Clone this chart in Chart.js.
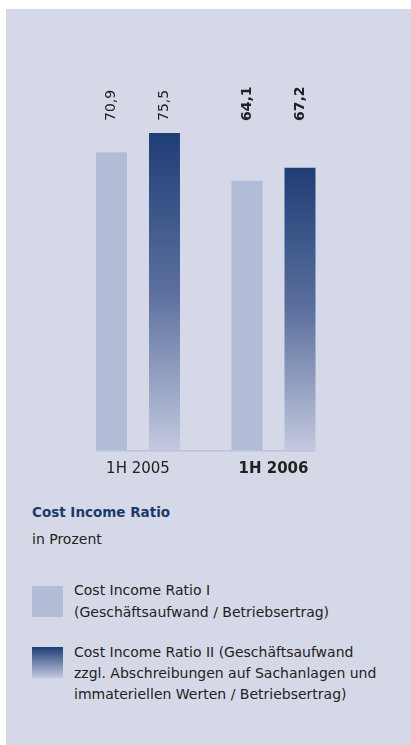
<!DOCTYPE html>
<html>
<head>
<meta charset="utf-8">
<script src="https://cdn.jsdelivr.net/npm/chart.js@4.4.0/dist/chart.umd.min.js"></script>
<style>
  html, body { margin:0; padding:0; background:#ffffff; width:411px; height:745px; overflow:hidden; }
  #panel { position:absolute; left:6px; top:9px; right:0; bottom:0; background:#d5d9e7; }
  #chartBox { position:absolute; left:0; top:0; width:411px; height:490px; }
  .txt { position:absolute; font-family:"DejaVu Sans", sans-serif; color:#222; white-space:pre-line; }
  #title { left:32px; top:503px; font-size:13.5px; line-height:18px; font-weight:bold; color:#1b3a6d; }
  #unit { left:32px; top:530px; font-size:14px; line-height:18px; }
  .sw { position:absolute; left:32px; width:31px; height:31px; }
</style>
</head>
<body>
<div id="panel"></div>
<div id="chartBox"><canvas id="c" width="411" height="490"></canvas></div>
<div class="txt" id="title"></div>
<div class="txt" id="unit"></div>
<div id="legend"></div>
<script>
// ---- data ----
const categories = ['1H 2005', '1H 2006'];
const ratioI = [70.9, 64.1];
const ratioII = [75.5, 67.2];
const seriesLabels = [
  'Cost Income Ratio I\n(Geschäftsaufwand / Betriebsertrag)',
  'Cost Income Ratio II (Geschäftsaufwand\nzzgl. Abschreibungen auf Sachanlagen und\nimmateriellen Werten / Betriebsertrag)'
];
const chartTitle = 'Cost Income Ratio';
const unitLabel = 'in Prozent';
const highlightIndex = 1; // current period shown in bold

// ---- styles ----
const FONT = '"DejaVu Sans", sans-serif';
const LIGHT = '#b3bcd6';
const DARK_TOP = '#1f3e76';
const DARK_MID = '#5b6f9e';
const DARK_BOT = '#c3c9de';

document.getElementById('title').textContent = chartTitle;
document.getElementById('unit').textContent = unitLabel;

// legend (HTML)
const legendTops = [579, 641.5];
const legendLH = [22, 21];
const swTops = [586, 647];
const swBgs = [LIGHT, 'linear-gradient(to bottom, ' + DARK_TOP + ', ' + DARK_BOT + ')'];
const lg = document.getElementById('legend');
seriesLabels.forEach((lab, i) => {
  const sw = document.createElement('div');
  sw.className = 'sw';
  sw.style.top = swTops[i] + 'px';
  sw.style.background = swBgs[i];
  lg.appendChild(sw);
  const t = document.createElement('div');
  t.className = 'txt';
  t.style.left = '74px';
  t.style.top = legendTops[i] + 'px';
  t.style.fontSize = '14px';
  t.style.lineHeight = legendLH[i] + 'px';
  t.textContent = lab;
  lg.appendChild(t);
});

function gradientFill(context) {
  const chart = context.chart;
  const area = chart.chartArea;
  if (!area) return DARK_TOP;
  const ys = chart.scales.y;
  const top = ys.getPixelForValue(context.raw);
  const bot = ys.getPixelForValue(0);
  const g = chart.ctx.createLinearGradient(0, top, 0, bot);
  g.addColorStop(0, DARK_TOP);
  g.addColorStop(0.5, DARK_MID);
  g.addColorStop(1, DARK_BOT);
  return g;
}

const valueLabels = {
  id: 'valueLabels',
  afterDatasetsDraw(chart) {
    const ctx = chart.ctx;
    chart.data.datasets.forEach((ds, di) => {
      const meta = chart.getDatasetMeta(di);
      meta.data.forEach((bar, i) => {
        const txt = ds.data[i].toFixed(1).replace('.', ',');
        ctx.save();
        ctx.translate(bar.x, 121);
        ctx.rotate(-Math.PI / 2);
        ctx.font = (i === highlightIndex ? 'bold ' : '') + '14px ' + FONT;
        ctx.fillStyle = '#222';
        ctx.textAlign = 'left';
        ctx.textBaseline = 'middle';
        ctx.fillText(txt, 0, 0);
        ctx.restore();
      });
    });
  }
};

const baseLine = {
  id: 'baseLine',
  beforeDatasetsDraw(chart) {
    const ctx = chart.ctx;
    let l = Infinity, r = -Infinity;
    chart.data.datasets.forEach((ds, di) => {
      chart.getDatasetMeta(di).data.forEach(b => {
        l = Math.min(l, b.x - b.width / 2);
        r = Math.max(r, b.x + b.width / 2);
      });
    });
    const y = chart.scales.y.getPixelForValue(0);
    ctx.save();
    ctx.strokeStyle = '#bcc3d9';
    ctx.lineWidth = 1.5;
    ctx.beginPath();
    ctx.moveTo(l, y + 0.75);
    ctx.lineTo(r, y + 0.75);
    ctx.stroke();
    ctx.restore();
  }
};

new Chart(document.getElementById('c'), {
  type: 'bar',
  data: {
    labels: categories,
    datasets: [
      { label: seriesLabels[0], data: ratioI, backgroundColor: LIGHT,
        barPercentage: 0.585, categoryPercentage: 0.782 },
      { label: seriesLabels[1], data: ratioII, backgroundColor: gradientFill,
        barPercentage: 0.585, categoryPercentage: 0.782 }
    ]
  },
  options: {
    responsive: false,
    animation: false,
    devicePixelRatio: 1,
    layout: { padding: { left: 70.25, right: 69.75, top: 30, bottom: 2 } },
    plugins: { legend: { display: false }, tooltip: { enabled: false } },
    scales: {
      x: {
        grid: { display: false, drawTicks: false },
        border: { display: false },
        ticks: {
          padding: 10,
          color: '#222',
          font: (c) => ({ family: FONT, size: 15, weight: c.index === highlightIndex ? 'bold' : 'normal' })
        }
      },
      y: { display: false, min: 0, max: 100 }
    }
  },
  plugins: [baseLine, valueLabels]
});
</script>
</body>
</html>
